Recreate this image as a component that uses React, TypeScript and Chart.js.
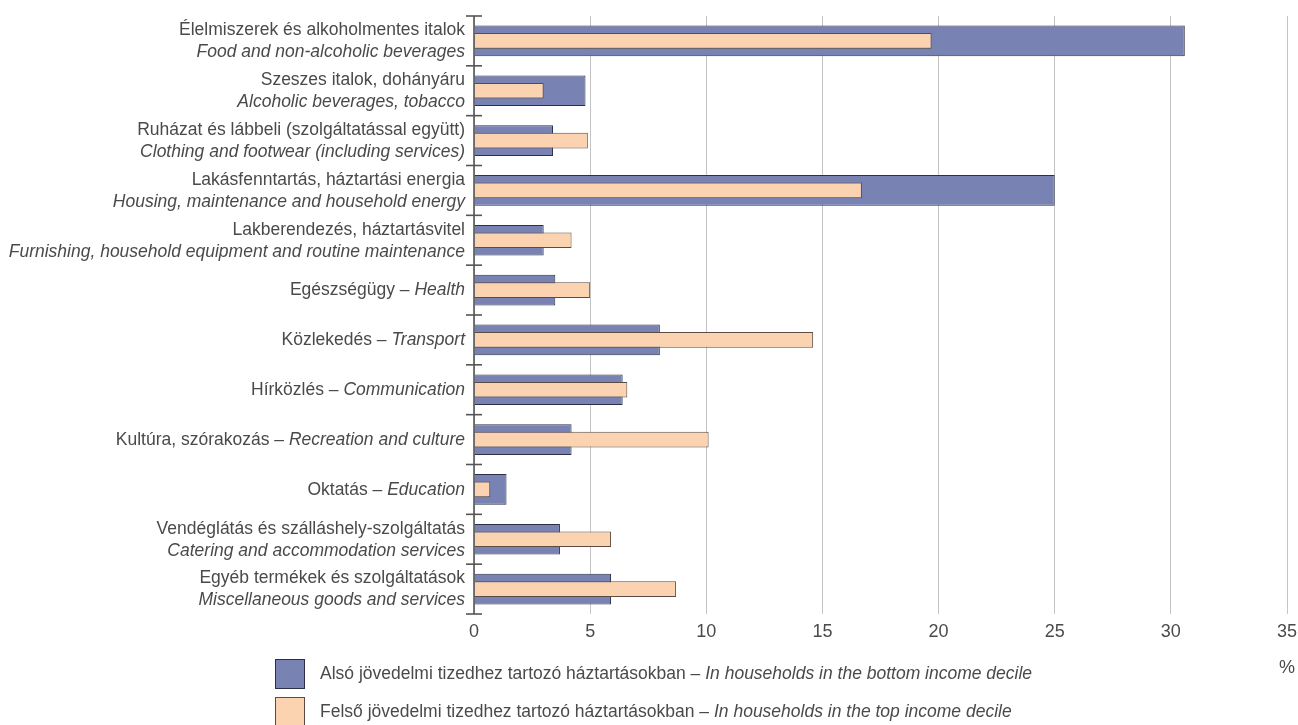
import React, { useEffect, useRef } from "react";
import { Chart, registerables } from "chart.js";

Chart.register(...registerables);

// ---- Data ----
const categoriesHu = [
  "Élelmiszerek és alkoholmentes italok",
  "Szeszes italok, dohányáru",
  "Ruházat és lábbeli (szolgáltatással együtt)",
  "Lakásfenntartás, háztartási energia",
  "Lakberendezés, háztartásvitel",
  "Egészségügy",
  "Közlekedés",
  "Hírközlés",
  "Kultúra, szórakozás",
  "Oktatás",
  "Vendéglátás és szálláshely-szolgáltatás",
  "Egyéb termékek és szolgáltatások",
];
const categoriesEn = [
  "Food and non-alcoholic beverages",
  "Alcoholic beverages, tobacco",
  "Clothing and footwear (including services)",
  "Housing, maintenance and household energy",
  "Furnishing, household equipment and routine maintenance",
  "Health",
  "Transport",
  "Communication",
  "Recreation and culture",
  "Education",
  "Catering and accommodation services",
  "Miscellaneous goods and services",
];
const singleLine = [false, false, false, false, false, true, true, true, true, true, false, false];

const bottomDecile = [30.6, 4.8, 3.4, 25.0, 3.0, 3.5, 8.0, 6.4, 4.2, 1.4, 3.7, 5.9];
const topDecile = [19.7, 3.0, 4.9, 16.7, 4.2, 5.0, 14.6, 6.6, 10.1, 0.7, 5.9, 8.7];

const xTicks = [0, 5, 10, 15, 20, 25, 30, 35];
const unitLabel = "%";

const legendHu = [
  "Alsó jövedelmi tizedhez tartozó háztartásokban",
  "Felső jövedelmi tizedhez tartozó háztartásokban",
];
const legendEn = [
  "In households in the bottom income decile",
  "In households in the top income decile",
];

// ---- Styles ----
const FONT = "'Liberation Sans', Arial, Helvetica, sans-serif";
const TEXT = "#4a4a4a";
const AXIS = "#555555";
const GRID = "#c4c4c4";
const BLUE = "#7883b4";
const BLUE_BORDER = "#2c2f45";
const ORANGE = "#fcd3b0";
const ORANGE_BORDER = "#5b4b42";
const LABEL_SIZE = 17.5;
const TICK_SIZE = 18;

type Part = [string, boolean];

function drawParts(
  ctx: CanvasRenderingContext2D,
  x: number,
  y: number,
  parts: Part[],
  align: "left" | "right",
  size: number
) {
  const widths = parts.map(([t, it]) => {
    ctx.font = `${it ? "italic " : ""}${size}px ${FONT}`;
    return ctx.measureText(t).width;
  });
  const total = widths.reduce((a, b) => a + b, 0);
  let cx = align === "right" ? x - total : x;
  ctx.textAlign = "left";
  ctx.textBaseline = "middle";
  parts.forEach(([t, it], i) => {
    ctx.font = `${it ? "italic " : ""}${size}px ${FONT}`;
    ctx.fillText(t, cx, y);
    cx += widths[i];
  });
}

const decorPlugin = {
  id: "decor",
  afterDraw(chart: any) {
    const ctx: CanvasRenderingContext2D = chart.ctx;
    const xs = chart.scales.x;
    const ys = chart.scales.y;
    const area = chart.chartArea;
    const n = categoriesHu.length;
    const band = (area.bottom - area.top) / n;
    const axisX = xs.getPixelForValue(0);

    ctx.save();
    // axis line
    ctx.strokeStyle = AXIS;
    ctx.lineWidth = 1.6;
    ctx.beginPath();
    ctx.moveTo(axisX, area.top);
    ctx.lineTo(axisX, area.bottom);
    ctx.stroke();
    // category boundary ticks (crossing the axis)
    for (let i = 0; i < n; i++) {
      const yc = ys.getPixelForValue(i);
      const yb = yc - band / 2;
      ctx.beginPath();
      ctx.moveTo(axisX - 8, yb);
      ctx.lineTo(axisX + 8, yb);
      ctx.stroke();
      if (i === n - 1) {
        ctx.beginPath();
        ctx.moveTo(axisX - 8, yc + band / 2);
        ctx.lineTo(axisX + 8, yc + band / 2);
        ctx.stroke();
      }
    }

    // category labels
    ctx.fillStyle = TEXT;
    const labelX = axisX - 9;
    for (let i = 0; i < n; i++) {
      const yc = ys.getPixelForValue(i);
      if (singleLine[i]) {
        drawParts(ctx, labelX, yc + 0.5, [
          [categoriesHu[i] + " – ", false],
          [categoriesEn[i], true],
        ], "right", LABEL_SIZE);
      } else {
        drawParts(ctx, labelX, yc - 10.5, [[categoriesHu[i], false]], "right", LABEL_SIZE);
        drawParts(ctx, labelX, yc + 11.5, [[categoriesEn[i], true]], "right", LABEL_SIZE);
      }
    }

    // x tick labels
    ctx.font = `${TICK_SIZE}px ${FONT}`;
    ctx.textAlign = "center";
    ctx.textBaseline = "middle";
    xTicks.forEach((v) => {
      ctx.fillText(String(v), xs.getPixelForValue(v), area.bottom + 18.5);
    });
    ctx.fillText(unitLabel, xs.getPixelForValue(xTicks[xTicks.length - 1]), area.bottom + 54);

    // legend
    const boxX = 275;
    const rows = [
      { y: 659, fill: BLUE, stroke: BLUE_BORDER },
      { y: 697, fill: ORANGE, stroke: ORANGE_BORDER },
    ];
    rows.forEach((r, i) => {
      ctx.fillStyle = r.fill;
      ctx.fillRect(boxX, r.y, 30, 30);
      ctx.strokeStyle = r.stroke;
      ctx.lineWidth = 1;
      ctx.strokeRect(boxX + 0.5, r.y + 0.5, 29, 29);
      ctx.fillStyle = TEXT;
      drawParts(ctx, 320, r.y + 15, [
        [legendHu[i] + " – ", false],
        [legendEn[i], true],
      ], "left", LABEL_SIZE);
    });
    ctx.restore();
  },
};

export default function App() {
  const ref = useRef<HTMLCanvasElement | null>(null);
  useEffect(() => {
    document.body.style.margin = "0";
    const canvas = ref.current;
    if (!canvas) return;
    const chart = new Chart(canvas, {
      type: "bar",
      data: {
        labels: categoriesHu,
        datasets: [
          {
            label: legendHu[1],
            data: topDecile,
            backgroundColor: ORANGE,
            borderColor: ORANGE_BORDER,
            borderWidth: 1,
            barPercentage: 0.315,
            categoryPercentage: 1,
            grouped: false,
            order: 1,
          } as any,
          {
            label: legendHu[0],
            data: bottomDecile,
            backgroundColor: BLUE,
            borderColor: BLUE_BORDER,
            borderWidth: 1,
            barPercentage: 0.615,
            categoryPercentage: 1,
            grouped: false,
            order: 2,
          } as any,
        ],
      },
      options: {
        animation: false,
        responsive: false,
        indexAxis: "y",
        layout: { padding: { top: 16, right: 11, bottom: 0, left: 0 } },
        plugins: {
          legend: { display: false },
          tooltip: { enabled: false },
          title: { display: false },
        },
        scales: {
          x: {
            type: "linear",
            min: 0,
            max: 35,
            ticks: { display: false, stepSize: 5 },
            grid: { color: GRID, lineWidth: 1, drawTicks: false },
            border: { display: false },
            afterFit: (s: any) => {
              s.height = 111;
            },
          },
          y: {
            type: "category",
            offset: true,
            ticks: { display: false },
            grid: { display: false, drawTicks: false },
            border: { display: false },
            afterFit: (s: any) => {
              s.width = 474;
            },
          },
        },
      } as any,
      plugins: [decorPlugin],
    });
    return () => chart.destroy();
  }, []);

  return (
    <div style={{ width: 1298, height: 725, background: "#ffffff" }}>
      <canvas ref={ref} width={1298} height={725} style={{ display: "block" }} />
    </div>
  );
}
